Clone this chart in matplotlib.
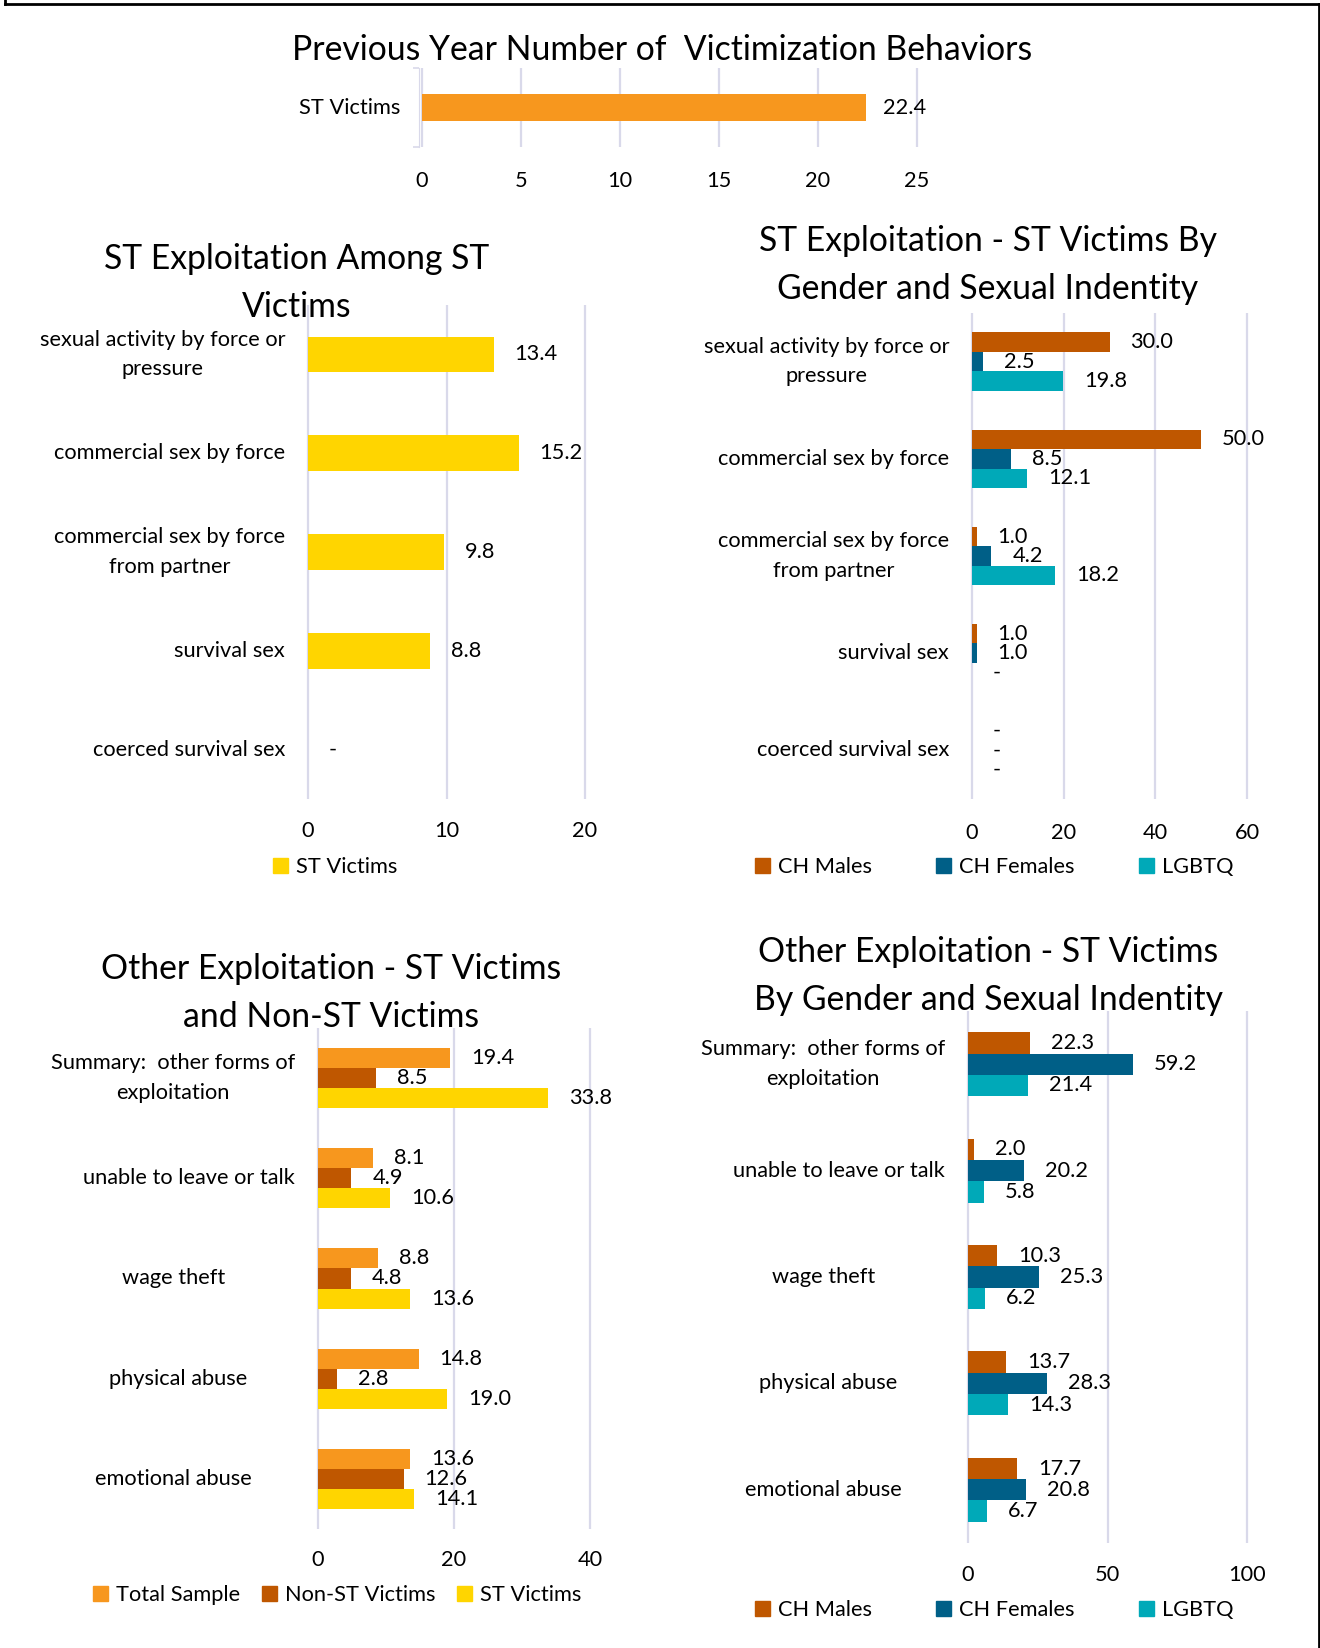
import matplotlib.pyplot as plt
import matplotlib.lines as mlines
import matplotlib.patches as mpatches
import numpy as np

W, H = 1320, 1648
plt.rcParams['font.family'] = ['Lato', 'DejaVu Sans']

# ---- data ----
yearly_labels = ["ST Victims"]
yearly_values = [22.4]

st_categories = ["sexual activity by force or\npressure", "commercial sex by force",
                 "commercial sex by force\nfrom partner", "survival sex", "coerced survival sex"]
st_victims_st = [13.4, 15.2, 9.8, 8.8, 0]
ch_males_st = [30.0, 50.0, 1.0, 1.0, 0]
ch_females_st = [2.5, 8.5, 4.2, 1.0, 0]
lgbtq_st = [19.8, 12.1, 18.2, 0, 0]

other_categories = ["Summary:  other forms of\nexploitation", "unable to leave or talk",
                    "wage theft", "physical abuse", "emotional abuse"]
total_sample_other = [19.4, 8.1, 8.8, 14.8, 13.6]
non_st_other = [8.5, 4.9, 4.8, 2.8, 12.6]
st_victims_other = [33.8, 10.6, 13.6, 19.0, 14.1]
ch_males_other = [22.3, 2.0, 10.3, 13.7, 17.7]
ch_females_other = [59.2, 20.2, 25.3, 28.3, 20.8]
lgbtq_other = [21.4, 5.8, 6.2, 14.3, 6.7]

# ---- style ----
ORANGE = "#F7971E"
RUST = "#BF5700"
NAVY = "#005F87"
TEAL = "#00A9B8"
YELLOW = "#FFD500"
GRID = "#D9D9EA"
FS = 15.7
TITLE_FS = 24.3
PT = 0.72  # points per pixel at dpi 100

fig = plt.figure(figsize=(W / 100, H / 100), dpi=100)


def px_axes(x0, x1, y0, y1, xmax):
    # axes slightly wider than the value range so the last gridline isn't clipped
    u = xmax / (x1 - x0)
    ax = fig.add_axes([(x0 - 3) / W, 1 - y1 / H, (x1 - x0 + 6) / W, (y1 - y0) / H])
    ax.set_xlim(-3 * u, xmax + 3 * u)
    return ax


def style_axes(ax, xmax, step, ncat, pad):
    ax.set_xticks(np.arange(0, xmax + 1, step))
    ax.set_ylim(ncat - 0.5, -0.5)
    ax.set_yticks([])
    for s in ax.spines.values():
        s.set_visible(False)
    ax.grid(axis='x', color=GRID, linewidth=1.6)
    ax.set_axisbelow(True)
    ax.tick_params(axis='x', length=0, pad=pad, labelsize=FS, labelcolor='black')


def cat_labels(ax, cats, extra=None, gap=23):
    for i, c in enumerate(cats):
        off = gap + (extra[i] if extra else 0)
        ax.annotate(c, (0, i), xytext=(-off * PT, 0), textcoords='offset points',
                    ha='right', va='center', multialignment='center',
                    fontsize=FS, linespacing=1.6, annotation_clip=False)


def bars(ax, series, colors, width):
    n = len(series)
    for j, (vals, col) in enumerate(zip(series, colors)):
        y = np.arange(len(vals)) + (j - (n - 1) / 2) * width
        ax.barh(y, vals, height=width, color=col)
        for yy, v in zip(y, vals):
            txt = f"{v:.1f}" if v > 0 else "-"
            ax.annotate(txt, (v, yy), xytext=(21 * PT, 0), textcoords='offset points',
                        ha='left', va='center', fontsize=FS, annotation_clip=False)


def title(x, y, s):
    fig.text(x / W, 1 - y / H, s, ha='center', va='center', fontsize=TITLE_FS,
             linespacing=1.6)


def legend(labels, colors, cx, cy, spacing):
    handles = [mpatches.Patch(color=c) for c in colors]
    fig.legend(handles, labels, loc='center', bbox_to_anchor=(cx / W, 1 - cy / H),
               ncol=len(labels), frameon=False, fontsize=FS, handlelength=0.7,
               handleheight=0.7, handletextpad=0.35, columnspacing=spacing,
               borderaxespad=0, borderpad=0)


# ---- panel 1: previous year ----
ax1 = px_axes(422, 917, 68, 147, 25)
style_axes(ax1, 25, 5, 1, 17)
ax1.spines['left'].set_visible(True)
ax1.spines['left'].set_color(GRID)
ax1.spines['left'].set_position(('data', -0.15))
ax1.set_yticks([-0.5, 0.5])
ax1.set_yticklabels([])
ax1.tick_params(axis='y', length=4, color=GRID, width=1.2)
ax1.barh([0], yearly_values, height=0.33, color=ORANGE)
ax1.annotate(f"{yearly_values[0]:.1f}", (yearly_values[0], 0), xytext=(17 * PT, 0),
             textcoords='offset points', ha='left', va='center', fontsize=FS)
cat_labels(ax1, yearly_labels, gap=22)
title(662, 50, "Previous Year Number of  Victimization Behaviors")

# ---- panel 2: ST exploitation among ST victims ----
ax2 = px_axes(308, 585, 305, 799, 20)
style_axes(ax2, 20, 10, 5, 16)
bars(ax2, [st_victims_st], [YELLOW], 0.36)
cat_labels(ax2, st_categories)
title(297, 283, "ST Exploitation Among ST\nVictims")
legend(["ST Victims"], [YELLOW], 335, 867, 3.0)

# ---- panel 3: ST exploitation by gender ----
ax3 = px_axes(972, 1247, 313, 799, 60)
style_axes(ax3, 60, 20, 5, 17)
bars(ax3, [ch_males_st, ch_females_st, lgbtq_st], [RUST, NAVY, TEAL], 0.2)
cat_labels(ax3, st_categories)
title(988, 265, "ST Exploitation - ST Victims By\nGender and Sexual Indentity")
legend(["CH Males", "CH Females", "LGBTQ"], [RUST, NAVY, TEAL], 994, 867, 2.95)

# ---- panel 4: other exploitation ST vs non-ST ----
label_shift = [0, 0, 70, 48, 43]
ax4 = px_axes(318, 590, 1028, 1529, 40)
style_axes(ax4, 40, 20, 5, 15)
bars(ax4, [total_sample_other, non_st_other, st_victims_other], [ORANGE, RUST, YELLOW], 0.2)
cat_labels(ax4, other_categories, label_shift)
title(331, 993, "Other Exploitation - ST Victims\nand Non-ST Victims")
legend(["Total Sample", "Non-ST Victims", "ST Victims"], [ORANGE, RUST, YELLOW], 337, 1595, 1.0)

# ---- panel 5: other exploitation by gender ----
ax5 = px_axes(968, 1247, 1011, 1543, 100)
style_axes(ax5, 100, 50, 5, 15.5)
bars(ax5, [ch_males_other, ch_females_other, lgbtq_other], [RUST, NAVY, TEAL], 0.2)
cat_labels(ax5, other_categories, label_shift)
title(988, 976, "Other Exploitation - ST Victims\nBy Gender and Sexual Indentity")
legend(["CH Males", "CH Females", "LGBTQ"], [RUST, NAVY, TEAL], 994, 1610, 2.95)

# outer frame (left, top, right)
for xs, ys in [((5, 5), (0, 3.5)), ((5, 1318.5), (3.5, 3.5)), ((1318.5, 1318.5), (3.5, H))]:
    fig.add_artist(mlines.Line2D([x / W for x in xs], [1 - y / H for y in ys],
                                 color='black', linewidth=2))

fig.savefig("out.png", dpi=100)
